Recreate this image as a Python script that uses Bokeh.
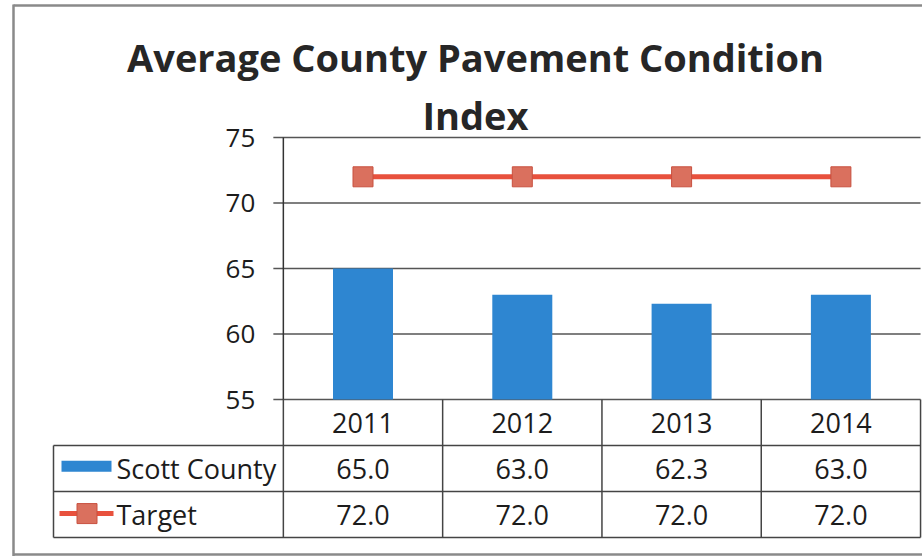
from bokeh.plotting import figure
from bokeh.models import Range1d
from bokeh.core.properties import value
from bokeh.embed import file_html
from bokeh.resources import INLINE

# ---------------- data ----------------
years = ["2011", "2012", "2013", "2014"]
scott_county = [65.0, 63.0, 62.3, 63.0]
target = [72.0, 72.0, 72.0, 72.0]
y_ticks = [55, 60, 65, 70, 75]
series_names = ["Scott County", "Target"]
title_lines = ["Average County Pavement Condition", "Index"]

# ---------------- layout constants ----------------
W, H = 922, 556
CAT_W = 159.3          # px per category
CX0 = 362.5            # canvas x of first category centre
Y_TOP_PX = 137         # canvas y of the top tick
PX_PER_UNIT = 13.1
Y_MIN, Y_MAX = y_ticks[0], y_ticks[-1]
ROW_TOP = Y_TOP_PX + (Y_MAX - Y_MIN) * PX_PER_UNIT
ROW_H = 46
LEG_LEFT_PX = 53

FONT = value("Open Sans")
TXT = "#1c1c1c"
BLUE = "#2E86D1"
RED = "#E8513D"
MARK = "#DA705E"
GRID = "#555555"
TABLE_LINE = "#444444"

x_range = Range1d(-CX0 / CAT_W, (W - CX0) / CAT_W)
y_range = Range1d(Y_MAX - (H - Y_TOP_PX) / PX_PER_UNIT, Y_MAX + Y_TOP_PX / PX_PER_UNIT)

p = figure(width=W, height=H, x_range=x_range, y_range=y_range,
           output_backend="svg", toolbar_location=None,
           x_axis_location=None, y_axis_location=None, min_border=0,
           outline_line_color=None, background_fill_color="white",
           border_fill_color="white")
p.xgrid.visible = False
p.ygrid.visible = False

p.extra_x_ranges = {"px": Range1d(0, W)}
p.extra_y_ranges = {"px": Range1d(H, 0),
                    "tbl": Range1d((H - ROW_TOP) / ROW_H, -ROW_TOP / ROW_H)}

idx = list(range(len(years)))
x_axis = -0.5
x_end = len(years) - 0.5
x_leg = (LEG_LEFT_PX - CX0) / CAT_W

# outer border
p.segment(x0=[13, 13, 13], y0=[4, 5, 554], x1=[13, W, W], y1=[H, 5, 554],
          x_range_name="px", y_range_name="px", line_color="#8a8a8a", line_width=2.5)

# title
p.text(x=[475, 475], y=[56, 114], text=title_lines, x_range_name="px", y_range_name="px",
       text_font=FONT, text_font_style="bold", text_font_size="38px",
       text_align="center", text_baseline="middle", text_color="#262626")

# gridlines with tick stubs
tick_len = 10 / CAT_W
p.segment(x0=[x_axis - tick_len] * len(y_ticks), x1=[x_end] * len(y_ticks),
          y0=y_ticks, y1=y_ticks, line_color=GRID, line_width=1.3)
# axis line
p.segment(x0=[x_axis], x1=[x_axis], y0=[Y_MIN], y1=[Y_MAX], line_color="#333333", line_width=1.5)
# y tick labels
p.text(x=[x_axis] * len(y_ticks), y=y_ticks, text=[str(t) for t in y_ticks],
       x_offset=-28, text_align="right", text_baseline="middle",
       text_font=FONT, text_font_size="26px", text_color=TXT)

# bars
p.vbar(x=idx, top=scott_county, bottom=Y_MIN, width=60 / CAT_W,
       fill_color=BLUE, line_color=None)

# target line
p.line(x=idx, y=target, line_color=RED, line_width=5)
p.scatter(x=idx, y=target, marker="square", size=20, fill_color=MARK,
          line_color="#C8503F", line_width=1)

# data table lines
n_rows = 3
p.segment(x0=[x_leg] * 3, x1=[x_end] * 3, y0=[1, 2, 3], y1=[1, 2, 3],
          y_range_name="tbl", line_color=TABLE_LINE, line_width=1.5)
p.segment(x0=[x_leg], x1=[x_leg], y0=[1], y1=[n_rows],
          y_range_name="tbl", line_color=TABLE_LINE, line_width=1.5)
col_x = [x_axis + k for k in range(len(years) + 1)]
p.segment(x0=col_x, x1=col_x, y0=[0] * len(col_x), y1=[n_rows] * len(col_x),
          y_range_name="tbl", line_color=TABLE_LINE, line_width=1.5)

# table text
p.text(x=idx, y=[0.5] * len(idx), text=years, y_range_name="tbl",
       text_align="center", text_baseline="middle",
       text_font=FONT, text_font_size="27px", text_color=TXT)
p.text(x=idx, y=[1.5] * len(idx), text=[f"{v:.1f}" for v in scott_county], y_range_name="tbl",
       text_align="center", text_baseline="middle",
       text_font=FONT, text_font_size="27px", text_color=TXT)
p.text(x=idx, y=[2.5] * len(idx), text=[f"{v:.1f}" for v in target], y_range_name="tbl",
       text_align="center", text_baseline="middle",
       text_font=FONT, text_font_size="27px", text_color=TXT)

# legend keys in table
p.rect(x=[86], y=[1.45], width=50, height=11, width_units="screen", height_units="screen",
       x_range_name="px", y_range_name="tbl", fill_color=BLUE, line_color=None)
p.segment(x0=[59], x1=[113], y0=[2.48], y1=[2.48], x_range_name="px", y_range_name="tbl",
          line_color=RED, line_width=5)
p.scatter(x=[86.5], y=[2.48], marker="square", size=20, x_range_name="px", y_range_name="tbl",
          fill_color=MARK, line_color="#C8503F", line_width=1)
p.text(x=[116, 116], y=[1.5, 2.5], text=series_names, x_range_name="px", y_range_name="tbl",
       text_align="left", text_baseline="middle",
       text_font=FONT, text_font_size="27px", text_color=TXT)

open("out.html", "w").write(file_html(p, INLINE))
